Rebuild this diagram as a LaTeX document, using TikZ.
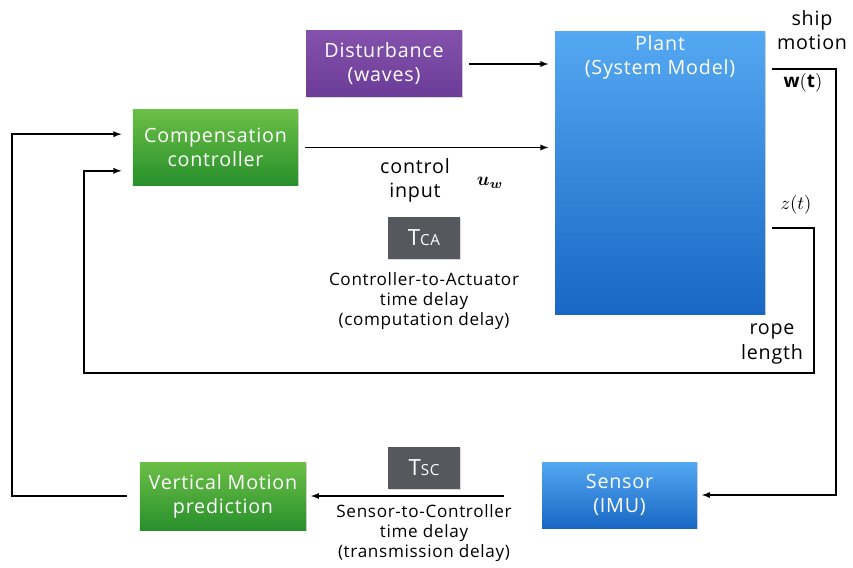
\documentclass[tikz,border=0pt]{standalone}
\usepackage{amsmath}
\usepackage{bm}
\usepackage{fontspec}
\setmainfont{Open Sans}[LetterSpace=4]
\usetikzlibrary{shadows}

\definecolor{purpletop}{HTML}{8452AC}
\definecolor{purplebot}{HTML}{6B3C98}
\definecolor{greentop}{HTML}{6CBF46}
\definecolor{greenbot}{HTML}{28902C}
\definecolor{bluetop}{HTML}{55A8F2}
\definecolor{bluebot}{HTML}{1867C4}
\definecolor{delaygray}{HTML}{55595D}

\newcommand{\blockfont}{\fontsize{16.8}{20.5}\selectfont}
\newcommand{\capfont}{\fontsize{14.6}{17}\selectfont}
\newcommand{\bigmath}[1]{\scalebox{1.6}{$#1$}}
\newcommand{\delayname}[2]{{\fontsize{19}{20}\selectfont #1}{\fontsize{13}{14}\selectfont #2}}

\begin{document}
\begin{tikzpicture}[x=0.03cm, y=-0.03cm, >=latex, line width=1.3pt,
    block/.style={rectangle, text=white, align=center, font=\blockfont, line width=0pt,
      drop shadow={opacity=0.3, shadow xshift=0.7pt, shadow yshift=-0.7pt}},
    purpleblock/.style={block, top color=purpletop, bottom color=purplebot},
    greenblock/.style={block, top color=greentop, bottom color=greenbot},
    blueblock/.style={block, top color=bluetop, bottom color=bluebot},
    delaybox/.style={block, fill=delaygray, minimum width=2.16cm, minimum height=1.26cm},
    caption/.style={align=center, font=\capfont},
    flow/.style={->, shorten >=1.5mm}]
    \useasboundingbox (0,0) rectangle (853,567);

    \node[purpleblock, minimum width=4.68cm, minimum height=1.98cm] (dist) at (384,64) {Disturbance\\(waves)};
    \node[blueblock, minimum width=6.3cm, minimum height=8.46cm] (plant) at (660,173) {};
    \node[align=center, text=white, font=\blockfont] (plantname) at (660,57) {Plant\\(System Model)};
    \node[greenblock, minimum width=4.95cm, minimum height=2.25cm] (comp) at (215.5,147.5) {Compensation\\controller};
    \node[caption, font=\blockfont] (ctrlin) at (415,180) {control\\input};
    \node (uw) at (490,183) {\bigmath{\bm{u_w}}};
    \node[delaybox] (tca) at (424,238) {\delayname{T}{CA}};
    \node[caption] (tcatext) at (424,301) {Controller-to-Actuator\\time delay\\(computation delay)};
    \node[blueblock, minimum width=4.65cm, minimum height=1.98cm] (sensor) at (619.5,495) {Sensor\\(IMU)};
    \node[delaybox] (tsc) at (424,468) {\delayname{T}{SC}};
    \node[caption] (tsctext) at (424,533) {Sensor-to-Controller\\time delay\\(transmission delay)};
    \node[greenblock, minimum width=4.98cm, minimum height=2.04cm] (vmp) at (223,496) {Vertical Motion\\prediction};
    \node[caption, font=\blockfont] (ship) at (812,30) {ship\\motion};
    \node (w) at (803,83) {\bigmath{\mathbf{w(t)}}};
    \node (z) at (796,205) {\bigmath{z(t)}};
    \node[caption, font=\blockfont] (rope) at (772,344) {rope\\length};

    \coordinate (wout) at (772,69);
    \coordinate (wcorner) at (836,69);
    \coordinate (zout) at (772,228);
    \coordinate (zcorner) at (814,228);
    \coordinate (zbottom) at (814,373);
    \coordinate (zleft) at (84,373);
    \coordinate (sensorout) at (504,496);
    \coordinate (vmpout) at (127,496);
    \coordinate (leftcorner) at (12,496);

    \draw[flow, shorten <=2mm, shorten >=2mm] (dist.east) -- (dist.east -| plant.west);
    \draw[flow, shorten <=2mm, shorten >=2mm] (comp.east) -- (comp.east -| plant.west);
    \draw[flow] (wout) -- (wcorner) |- (sensor.east);
    \draw[flow] (sensorout) -- (vmp.east);
    \draw[flow, shorten >=3.5mm] (vmpout) -- (leftcorner) |- ([yshift=0.4cm]comp.west);
    \draw[flow, shorten >=3.5mm] (zout) -- (zcorner) -- (zbottom) -- (zleft) |- ([yshift=-0.7cm]comp.west);
\end{tikzpicture}
\end{document}
